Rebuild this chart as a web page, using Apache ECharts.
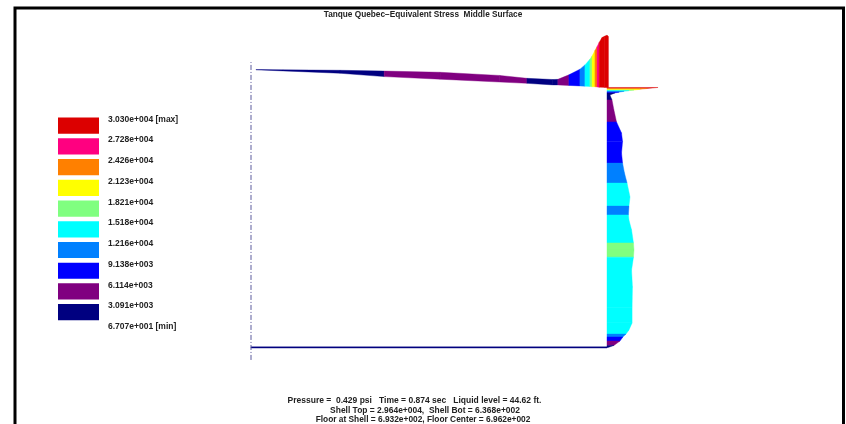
<!DOCTYPE html>
<html><head><meta charset="utf-8">
<style>html,body{margin:0;padding:0;background:#fff;overflow:hidden}#c{width:846px;height:424px;filter:blur(0.35px)}</style>
<script src="https://cdn.jsdelivr.net/npm/echarts@6/dist/echarts.min.js"></script>
</head><body><div id="c"></div>
<script>
const titleText = 'Tanque Quebec\u2212Equivalent Stress  Middle Surface';
const footerLines = [
  'Pressure =  0.429 psi   Time = 0.874 sec   Liquid level = 44.62 ft.',
  'Shell Top = 2.964e+004,  Shell Bot = 6.368e+002',
  'Floor at Shell = 6.932e+002, Floor Center = 6.962e+002'
];
// stress bands, lowest (0) to highest (9)
const bandColors = ['#000080','#800080','#0000ff','#0080ff','#00ffff','#80ff80','#ffff00','#ff8000','#ff0080','#dc0000'];
const legendLabels = ['3.030e+004 [max]','2.728e+004','2.426e+004','2.123e+004','1.821e+004','1.518e+004','1.216e+004','9.138e+003','6.114e+003','3.091e+003','6.707e+001 [min]'];

// roof: radius %, roof height %, stress (ksi), band of the interval to the next station
const roofRadius = [1.4,9.0,25.0,37.4,53.1,69.9,77.5,84.8,86.2,89.3,92.4,93.8,95.2,95.8,96.6,97.2,97.8,98.6,99.4,100,100.4];
const roofHeight = [107.0,106.6,105.7,104.4,103.4,102.3,101.8,101.2,101.2,101.0,100.8,100.7,100.6,100.5,100.5,100.4,100.3,100.3,100.2,100.2,100.2];
const roofStress = [0.2,0.6,1.7,3.2,4.0,3.8,2.9,3.1,3.2,6.1,9.7,12.3,15.7,17.7,20.9,23.3,25.9,28.7,29.7,30.2,29.5];
const roofBands  = [0,0,0,1,1,1,0,0,1,2,3,4,5,6,7,8,9,9,9,9];

// shell wall: height %, stress (ksi), band of the interval to the next station
const wallHeight = [100.2,99.8,99.5,99.2,99.0,98.7,98.4,98.1,97.3,95.4,91.5,86.9,82.6,79.3,74.9,71.0,67.2,63.3,57.9,54.4,51.0,49.0,45.2,40.2,37.5,34.7,29.7,23.2,15.4,9.3,6.6,5.0,3.9,2.3,0.6,-0.2];
const wallStress = [29.5,23.1,19.1,15.6,12.7,9.8,6.9,4.6,1.7,2.9,4.0,5.5,8.4,9.0,8.4,9.0,10.1,11.6,13.3,12.7,12.4,12.7,14.2,15.3,15.6,15.3,14.2,14.7,14.5,14.5,12.7,11.0,9.2,7.5,4.0,0.6];
const wallBands  = [9,7,6,5,4,3,2,0,0,1,1,2,2,2,2,3,3,4,4,3,4,4,4,5,5,4,4,4,4,4,4,3,2,1,0];

// floor: radius %, height %, stress (ksi)
const floorRadius = [0,100];
const floorHeight = [-0.4,-0.4];
const floorStress = [0.696,0.693];

// centreline of the tank (dash-dot)
const axisRadius = [0,0];
const axisHeight = [-5,110];

// one stress unit (ksi) expressed in axis units
const RADIUS_PER_KSI = 0.486, HEIGHT_PER_KSI = 0.668;

const segs = (a,b,c,d)=>a.slice(0,-1).map((_,i)=>[a[i],b[i],c[i],a[i+1],b[i+1],c[i+1],d?d[i]:0]);
const quad = (fn)=>(params,api)=>{
  const v=i=>api.value(i);
  const pts=fn(v).map(p=>api.coord(p));
  const col=bandColors[v(6)];
  return {type:'polygon',shape:{points:pts},style:{fill:col,stroke:col,lineWidth:0.4}};
};
const roofQuad = quad(v=>[[v(0),v(1)],[v(3),v(4)],[v(3),v(4)+v(5)*HEIGHT_PER_KSI],[v(0),v(1)+v(2)*HEIGHT_PER_KSI]]);
const wallQuad = quad(v=>[[100,v(0)],[100,v(3)],[100+v(4)*RADIUS_PER_KSI,v(3)],[100+v(1)*RADIUS_PER_KSI,v(0)]]);
const wallData = wallHeight.slice(0,-1).map((h,i)=>[h,wallStress[i],0,wallHeight[i+1],wallStress[i+1],0,wallBands[i]]);

const font = {fontFamily:'"Liberation Sans",Arial,sans-serif',fontWeight:'bold',fontSize:8.5,fill:'#222'};
const footerCenters = [414.5,425,423];
const footerSizes = [8.5,8.45,8.35];
const graphics = [];
graphics.push({type:'polyline',shape:{points:[[15,424],[15,8],[843.5,8],[843.5,424]]},style:{stroke:'#000',lineWidth:3,fill:null},silent:true});
graphics.push({type:'text',x:423,y:15,style:Object.assign({},font,{fontSize:8.25,text:titleText,textAlign:'center',textVerticalAlign:'middle'})});
footerLines.forEach((t,i)=>graphics.push({type:'text',x:footerCenters[i],y:400.6+i*9.7,style:Object.assign({},font,{fontSize:footerSizes[i],text:t,textAlign:'center',textVerticalAlign:'middle'})}));
legendLabels.forEach((t,i)=>{
  graphics.push({type:'text',x:108,y:119.4+i*20.72,style:Object.assign({},font,{text:t,textAlign:'left',textVerticalAlign:'middle'})});
  if(i<bandColors.length){
    graphics.push({type:'rect',shape:{x:58,y:117.6+i*20.72,width:41,height:16.2},style:{fill:bandColors[bandColors.length-1-i]}});
  }
});

const chart = echarts.init(document.getElementById('c'),null,{renderer:'canvas'});
chart.setOption({
  animation:false,
  backgroundColor:'#fff',
  grid:{left:251,top:10.3,width:356,height:362.6},
  xAxis:{type:'value',min:0,max:100,show:false},
  yAxis:{type:'value',min:-10,max:130,show:false},
  tooltip:{show:false},
  graphic:graphics,
  series:[
    {type:'line',symbol:'none',clip:false,silent:true,data:axisRadius.map((r,i)=>[r,axisHeight[i]]),
     lineStyle:{color:'#5a5a9c',width:1,type:[5,2,1,2]}},
    {type:'custom',clip:false,silent:true,renderItem:roofQuad,
     data:segs(floorRadius,floorHeight,floorStress),encode:{x:0,y:1}},
    {type:'custom',clip:false,silent:true,renderItem:roofQuad,data:segs(roofRadius,roofHeight,roofStress,roofBands),encode:{x:0,y:1}},
    {type:'custom',clip:false,silent:true,renderItem:wallQuad,data:wallData,encode:{x:1,y:0}}
  ]
});
</script></body></html>
